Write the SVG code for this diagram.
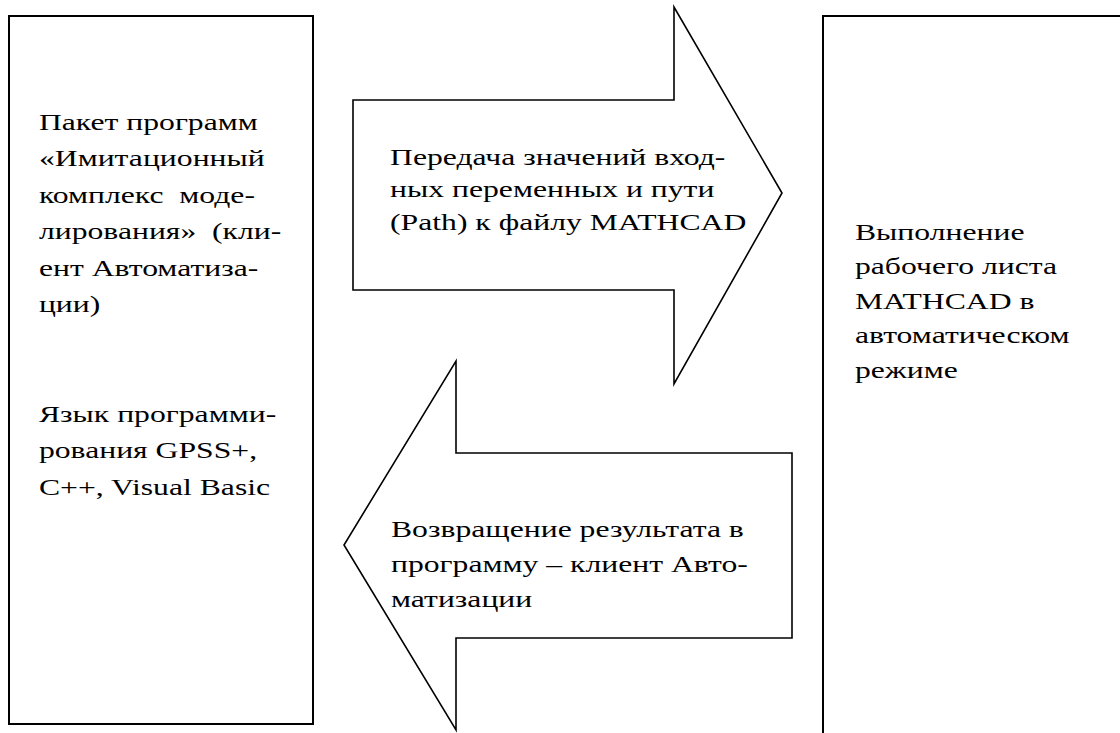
<svg xmlns="http://www.w3.org/2000/svg" width="1120" height="733" viewBox="0 0 1120 733">
<style>
.shape{fill:#fff;stroke:#000;stroke-width:1.6}
.box{fill:#fff;stroke:#000;stroke-width:2}
</style>
<rect width="1120" height="733" fill="#fff"/>
<g id="client">
<rect class="box" x="9" y="16" width="304" height="708"/>
<g transform="scale(1.32 1)" font-family="Liberation Serif, serif" font-size="24" fill="#000">
<text x="29.5" y="130">Пакет программ</text>
<text x="29.5" y="166.5">«Имитационный</text>
<text x="29.5" y="203" xml:space="preserve">комплекс  моде-</text>
<text x="29.5" y="239.5" xml:space="preserve">лирования»  (кли-</text>
<text x="29.5" y="276">ент Автоматиза-</text>
<text x="29.5" y="312.5">ции)</text>
<text x="29.5" y="422">Язык программи-</text>
<text x="29.5" y="458.5">рования GPSS+,</text>
<text x="29.5" y="495">C++, Visual Basic</text>
</g>
</g>
<g id="mathcad">
<rect class="box" x="823" y="16" width="310" height="730"/>
<g transform="scale(1.32 1)" font-family="Liberation Serif, serif" font-size="24" fill="#000">
<text x="647.7" y="240">Выполнение</text>
<text x="647.7" y="274.5">рабочего листа</text>
<text x="647.7" y="309">MATHCAD в</text>
<text x="647.7" y="343.5">автоматическом</text>
<text x="647.7" y="378">режиме</text>
</g>
</g>
<g id="connectors">
<g id="arrow-forward">
<polygon class="shape" points="353,100 674,100 674,7 782,193 674,384 674,290 353,290"/>
<g transform="scale(1.32 1)" font-family="Liberation Serif, serif" font-size="24" fill="#000">
<text x="295.5" y="165">Передача значений вход-</text>
<text x="295.5" y="197.5">ных переменных и пути</text>
<text x="295.5" y="230">(Path) к файлу MATHCAD</text>
</g>
</g>
<g id="arrow-back">
<polygon class="shape" points="792,453 456,453 456,361 344,545 456,730 456,638 792,638"/>
<g transform="scale(1.32 1)" font-family="Liberation Serif, serif" font-size="24" fill="#000">
<text x="296.2" y="537">Возвращение результата в</text>
<text x="296.2" y="572">программу – клиент Авто-</text>
<text x="296.2" y="607">матизации</text>
</g>
</g>
</g>
</svg>
